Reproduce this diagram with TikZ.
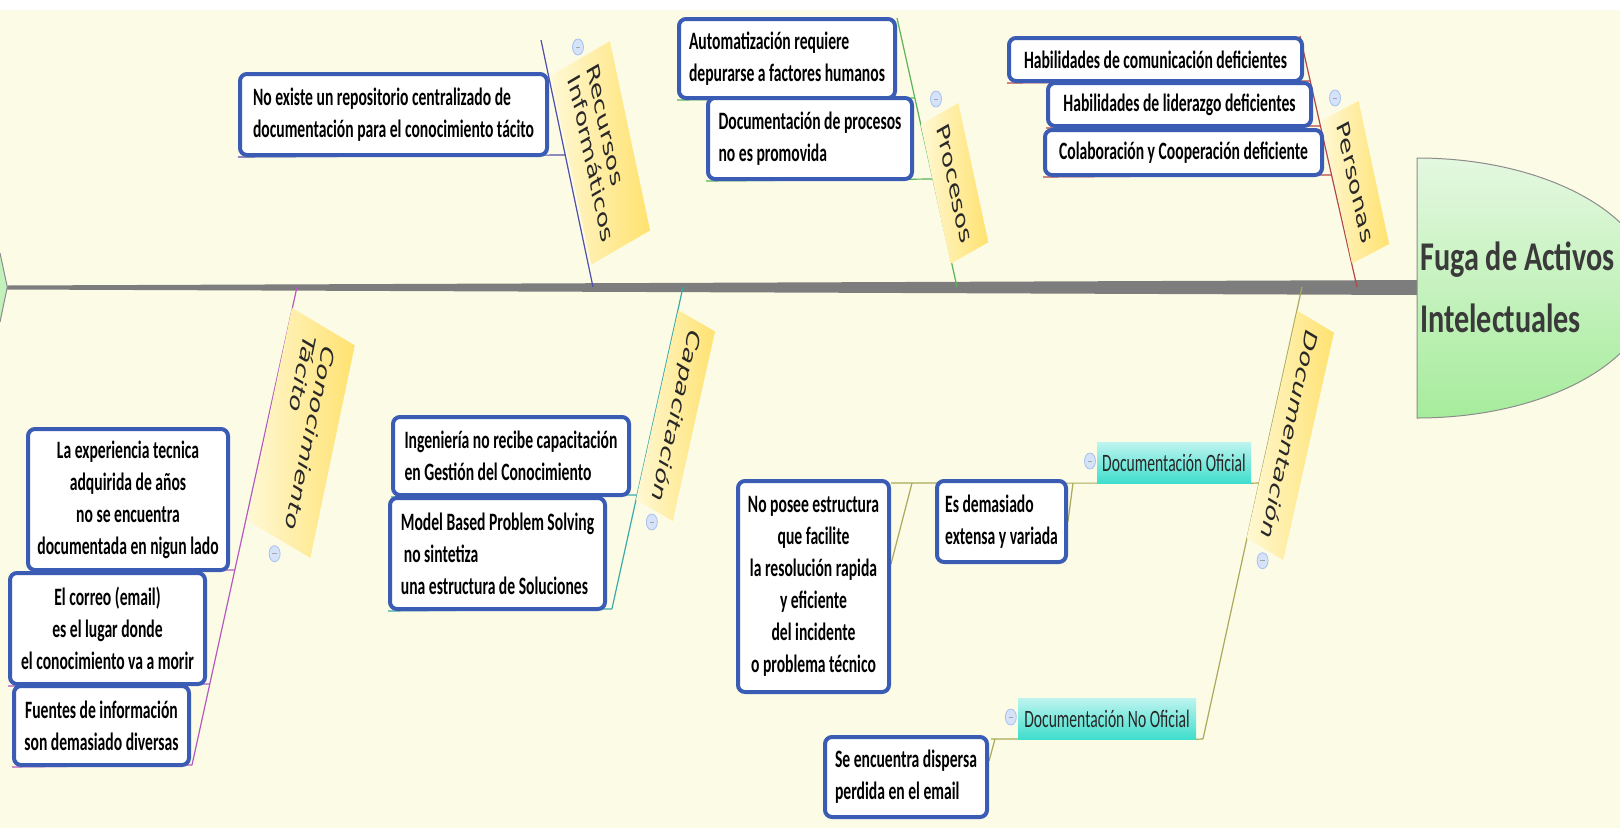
\documentclass[tikz,border=0pt]{standalone}
\usepackage{fontspec}
\usetikzlibrary{shapes.geometric}
\newfontfamily\boxfont{Carlito}[FakeStretch=0.625]
\newfontfamily\titlefont{Carlito}[FakeStretch=0.74]
\newfontfamily\labfont{DejaVu Sans}
\definecolor{bgcream}{RGB}{252,251,230}
\definecolor{boxblue}{RGB}{58,92,180}
\definecolor{spinegray}{RGB}{125,125,125}
\definecolor{labtop}{RGB}{255,248,212}
\definecolor{labbot}{RGB}{255,226,112}
\definecolor{labtext}{RGB}{40,40,40}
\definecolor{cyantop}{RGB}{190,244,240}
\definecolor{cyanbot}{RGB}{64,222,204}
\definecolor{headtop}{RGB}{228,248,224}
\definecolor{headbot}{RGB}{166,236,156}
\definecolor{headline}{RGB}{140,140,140}
\definecolor{titlegray}{RGB}{58,58,58}
\definecolor{recc}{RGB}{80,80,170}
\definecolor{proc}{RGB}{90,180,90}
\definecolor{perc}{RGB}{180,70,70}
\definecolor{conc}{RGB}{180,90,190}
\definecolor{capc}{RGB}{60,170,170}
\definecolor{docc}{RGB}{170,170,90}
\definecolor{markfill}{RGB}{212,226,250}
\definecolor{markline}{RGB}{170,192,238}
\pgfdeclarelayer{bg}
\pgfdeclarelayer{back}
\pgfsetlayers{bg,back,main}
\begin{document}
\begin{tikzpicture}[x=1pt,y=-1pt,
  causebox/.style={draw=boxblue, line width=4pt, rounded corners=7pt, fill=white, inner sep=0pt,
    font=\boxfont\bfseries\fontsize{25}{32}\selectfont, text=black},
  catlab/.style={rectangle, inner sep=0pt, left color=labtop, right color=labbot,
    font=\labfont\fontsize{17.5}{20}\selectfont, text=labtext, align=left},
  sublab/.style={rectangle, inner sep=0pt, top color=cyantop, bottom color=cyanbot,
    font=\boxfont\fontsize{25}{32}\selectfont, text=black!85},
  collapsemark/.style={ellipse, draw=markline, fill=markfill, line width=0.8pt,
    minimum width=11pt, minimum height=16pt, inner sep=0pt},
  boneline/.style={line width=1.2pt}
]
\useasboundingbox (0,0) rectangle (1620,828);

% ---------- boxes (main layer) ----------
\node[causebox, minimum width=307pt, minimum height=81pt, align=left] (b1) at (393.5,114.5)
  {No existe un repositorio centralizado de\\documentación para el conocimiento tácito};
\node[causebox, minimum width=216pt, minimum height=79pt, align=left] (b2) at (787,58.5)
  {Automatización requiere\\depurarse a factores humanos};
\node[causebox, minimum width=204pt, minimum height=81pt, align=left] (b3) at (810,138.5)
  {Documentación de procesos\\no es promovida};
\node[causebox, minimum width=293pt, minimum height=43pt, align=left] (b4) at (1155.5,59.5)
  {Habilidades de comunicación deficientes};
\node[causebox, minimum width=263pt, minimum height=43pt, align=left] (b5) at (1179.5,104.5)
  {Habilidades de liderazgo deficientes};
\node[causebox, minimum width=277pt, minimum height=45pt, align=left] (b6) at (1183.5,152.5)
  {Colaboración y Cooperación deficiente};
\node[causebox, minimum width=200pt, minimum height=141pt, align=center] (b7) at (128,499.5)
  {La experiencia tecnica\\adquirida de años\\no se encuentra\\documentada en nigun lado};
\node[causebox, minimum width=195pt, minimum height=111pt, align=center] (b8) at (107.5,628.5)
  {El correo (email)\\es el lugar donde\\el conocimiento va a morir};
\node[causebox, minimum width=175pt, minimum height=79pt, align=center] (b9) at (101.5,725.5)
  {Fuentes de información\\son demasiado diversas};
\node[causebox, minimum width=236pt, minimum height=78pt, align=left] (b10) at (511,456)
  {Ingeniería no recibe capacitación\\en Gestión del Conocimiento};
\node[causebox, minimum width=215pt, minimum height=111pt, align=left] (b11) at (497.5,553.5)
  {Model Based Problem Solving\\\hspace*{3pt}no sintetiza\\una estructura de Soluciones};
\node[causebox, minimum width=151pt, minimum height=211pt, align=center] (b12) at (813.5,586.5)
  {No posee estructura\\que facilite\\la resolución rapida\\y eficiente\\del incidente\\o problema técnico};
\node[causebox, minimum width=129pt, minimum height=81pt, align=left] (b13) at (1001.5,521.5)
  {Es demasiado\\extensa y variada};
\node[causebox, minimum width=162pt, minimum height=80pt, align=left] (b14) at (906,777)
  {Se encuentra dispersa\\perdida en el email};

% ---------- sub-category labels ----------
\node[sublab, minimum width=154pt, minimum height=41pt] (dof) at (1174,462.5) {Documentación Oficial};
\node[sublab, minimum width=178pt, minimum height=41pt] (dno) at (1107,718.5) {Documentación No Oficial};

% ---------- category labels ----------
\begin{scope}[shift={(600.6,152.9)}]
\node[catlab, cm={0.322,-1.515,0.939,0.546,(0,0)}, minimum width=124.9pt, minimum height=62.6pt] (lrec) at (0,0) {Recursos\\Informáticos};
\end{scope}
\begin{scope}[shift={(954.5,183.4)}]
\node[catlab, cm={0.326,-1.513,0.942,0.539,(0,0)}, minimum width=92pt, minimum height=39.9pt] (lpro) at (0,0) {Procesos};
\end{scope}
\begin{scope}[shift={(1355.25,182.3)}]
\node[catlab, cm={0.323,-1.515,0.949,0.503,(0,0)}, minimum width=94.4pt, minimum height=39.1pt] (lper) at (0,0) {Personas};
\end{scope}
\begin{scope}[shift={(301.1,432.9)}]
\node[catlab, cm={-0.3175,-1.518,0.937,-0.559,(0,0)}, minimum width=140pt, minimum height=67.1pt] (lcon) at (0,0) {Conocimiento\\Tácito};
\end{scope}
\begin{scope}[shift={(675.5,415.6)}]
\node[catlab, cm={-0.3365,-1.5076,0.941,-0.5436,(0,0)}, minimum width=125.7pt, minimum height=39pt] (lcap) at (0,0) {Capacitación};
\end{scope}
\begin{scope}[shift={(1290.3,435.4)}]
\node[catlab, cm={-0.3356,-1.507,0.937,-0.5588,(0,0)}, minimum width=150.9pt, minimum height=39.1pt] (ldoc) at (0,0) {Documentación};
\end{scope}

% ---------- collapse markers ----------
\foreach \n/\p in {m1/{(578,47)}, m2/{(936,99)}, m3/{(1335,98)}, m4/{(274.6,553.7)},
                   m5/{(651.8,522)}, m6/{(1262.6,560.7)}, m7/{(1090,461)}, m8/{(1010.8,717)}}
  \node[collapsemark] (\n) at \p {\textcolor{gray!70}{\rule{4.5pt}{0.9pt}}};

% ---------- title ----------
\node[anchor=west, inner sep=0pt, align=left, text=titlegray,
  font=\titlefont\bfseries\fontsize{40.8}{62}\selectfont] (title) at (1420,287)
  {Fuga de Activos\\Intelectuales};

% ---------- background, spine, head ----------
\begin{pgfonlayer}{bg}
  \fill[bgcream] (0,10) rectangle (1620,828);
  \fill[white] (0,0) rectangle (1620,10);
  \fill[spinegray] (7,285.5) -- (1417,280) -- (1417,295) -- (7,289.5) -- cycle;
  \draw[headline, line width=1pt, fill=headbot!55!headtop] (0,253) -- (7.3,287) -- (0,322);
  \draw[headline, line width=1pt, top color=headtop, bottom color=headbot]
    (1417,158) arc[start angle=90, end angle=-90, x radius=235pt, y radius=130pt] -- cycle;
\end{pgfonlayer}

% ---------- bones and connectors ----------
\begin{pgfonlayer}{back}
  % Recursos Informaticos
  \coordinate (recT) at (541,40);   \coordinate (recB) at (593,287);
  \coordinate (u1) at (565.3,155);
  \draw[boneline, recc] (recB) -- (recT);
  \draw[boneline, recc] (b1.south west) -- (u1);
  % Procesos
  \coordinate (proT) at (897,18);   \coordinate (proB) at (957,287);
  \coordinate (u2) at (914.9,98); \coordinate (u3) at (933,179);
  \draw[boneline, proc] (proB) -- (proT);
  \draw[boneline, proc] (b2.south west) -- (u2);
  \draw[boneline, proc] (b3.south west) -- (u3);
  % Personas
  \coordinate (perT) at (1300,36);  \coordinate (perB) at (1357,287);
  \coordinate (u4) at (1310.3,81); \coordinate (u5) at (1320.5,126); \coordinate (u6) at (1331.6,175);
  \draw[boneline, perc] (perB) -- (perT);
  \draw[boneline, perc] (b4.south west) -- (u4);
  \draw[boneline, perc] (b5.south west) -- (u5);
  \draw[boneline, perc] (b6.south west) -- (u6);
  % Conocimiento Tacito
  \coordinate (conB) at (297,287);  \coordinate (conE) at (192,765);
  \coordinate (u7) at (234.8,570); \coordinate (u8) at (209.7,684);
  \draw[boneline, conc] (conB) -- (conE);
  \draw[boneline, conc] (b7.south west) -- (u7);
  \draw[boneline, conc] (b8.south west) -- (u8);
  \draw[boneline, conc] (b9.south west) -- (conE);
  % Capacitacion
  \coordinate (capB) at (683,287);  \coordinate (capE) at (611.9,609);
  \coordinate (u10) at (637.1,495);
  \draw[boneline, capc] (capB) -- (capE);
  \draw[boneline, capc] (b10.south west) -- (u10);
  \draw[boneline, capc] (b11.south west) -- (capE);
  % Documentacion
  \coordinate (docB) at (1302,287); \coordinate (docE) at (1203,739);
  \coordinate (ofB) at (1259.1,483); \coordinate (ofL) at (891,483);
  \coordinate (s12) at (912,483);   \coordinate (s13) at (1073,483);
  \coordinate (noL) at (991,739);   \coordinate (s14) at (995,739);
  \draw[boneline, docc] (docB) -- (docE);
  \draw[boneline, docc] (ofB) -- (dof.south east) -- (ofL);
  \draw[boneline, docc] (s12) -- ([yshift=22.5pt]b12.east);
  \draw[boneline, docc] (s13) -- (b13.east);
  \draw[boneline, docc] (docE) -- (dno.south east) -- (noL);
  \draw[boneline, docc] (s14) -- ([yshift=16pt]b14.east);
\end{pgfonlayer}
\end{tikzpicture}
\end{document}
